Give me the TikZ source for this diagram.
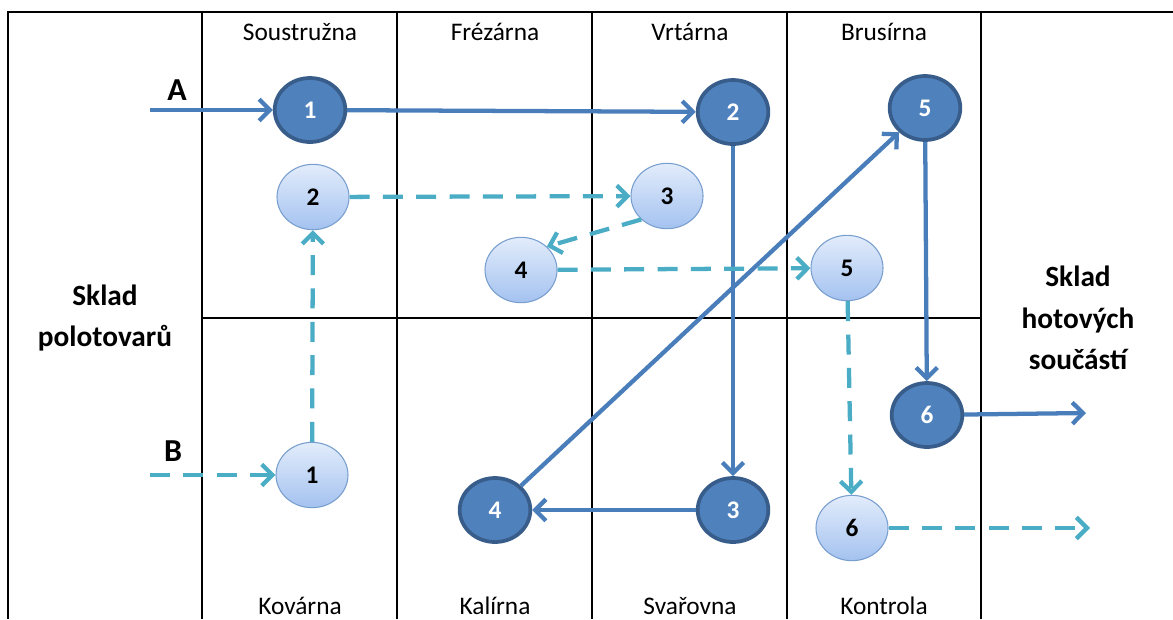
\documentclass[tikz,border=0pt]{standalone}
\usepackage{fontspec}
\setmainfont{Carlito}
\usepackage{tikz}
\usetikzlibrary{arrows.meta, positioning, shapes.geometric}

\definecolor{darkfill}{RGB}{79,129,189}
\definecolor{darkrim}{RGB}{56,93,138}
\definecolor{darkflow}{RGB}{74,126,187}
\definecolor{lightflow}{RGB}{75,172,198}
\definecolor{lighttop}{RGB}{226,236,251}
\definecolor{lightbottom}{RGB}{164,194,240}
\definecolor{lightrim}{RGB}{120,158,206}

\tikzset{
	opA/.style={ellipse, draw=darkrim, line width=2.8pt, fill=darkfill, text=white,
		minimum width=53pt, minimum height=48pt, inner sep=0pt,
		font=\fontsize{19}{21}\selectfont\bfseries},
	opB/.style={ellipse, draw=lightrim, line width=0.8pt, top color=lighttop, bottom color=lightbottom,
		minimum width=54pt, minimum height=49pt, inner sep=0pt,
		font=\fontsize{19}{21}\selectfont\bfseries},
	flowA/.style={darkflow, line width=3.2pt, -{Straight Barb[length=8pt,width=16pt]}},
	flowB/.style={lightflow, line width=3.2pt, dash pattern=on 15pt off 10pt, -{Straight Barb[length=8pt,width=16pt]}},
	dept/.style={font=\fontsize{19}{22}\selectfont},
	store/.style={align=center, font=\fontsize{22}{31}\selectfont\bfseries},
	part/.style={font=\fontsize{24}{26}\selectfont\bfseries}
}

\begin{document}
\begin{tikzpicture}[x=0.75pt,y=-0.75pt]
	\useasboundingbox (0,0) rectangle (1173,619);

	% Draw the grid of workshops
	\draw[line width=0.9pt] (8,619) -- (8,12) -- (1173,12);
	\foreach \xx in {202,397,592,787,981}
		\draw[line width=0.9pt] (\xx,12) -- (\xx,619);
	\draw[line width=0.9pt] (202,318) -- (981,318);

	% Workshop names
	\node[dept] (soustruzna) at (300,32) {Soustružna};
	\node[dept] (frezarna) at (495,32) {Frézárna};
	\node[dept] (vrtarna) at (690,32) {Vrtárna};
	\node[dept] (brusirna) at (884,32) {Brusírna};
	\node[dept] (kovarna) at (300,606) {Kovárna};
	\node[dept] (kalirna) at (495,606) {Kalírna};
	\node[dept] (svarovna) at (690,606) {Svařovna};
	\node[dept] (kontrola) at (884,606) {Kontrola};

	% Stores
	\node[store] (polotovary) at (105,318) {Sklad\\polotovarů};
	\node[store] (hotove) at (1078,318) {Sklad\\hotových\\součástí};

	% Operations of part A
	\node[opA] (a1) at (310,110) {1};
	\node[opA] (a2) at (733,112) {2};
	\node[opA] (a3) at (733,510) {3};
	\node[opA] (a4) at (495,510) {4};
	\node[opA] (a5) at (925,108) {5};
	\node[opA] (a6) at (927,415) {6};

	% Operations of part B
	\node[opB] (b1) at (312,475) {1};
	\node[opB] (b2) at (313,197) {2};
	\node[opB] (b3) at (667,196) {3};
	\node[opB] (b4) at (521,270) {4};
	\node[opB] (b5) at (847,268) {5};
	\node[opB] (b6) at (852,528) {6};

	% Entry and exit points
	\coordinate (inA) at (150,110);
	\coordinate (outA) at (1086,413);
	\coordinate (inB) at (150,475);
	\coordinate (outB) at (1090,528);
	\node[part] (labA) at (177,90) {A};
	\node[part] (labB) at (173,451) {B};

	% Route of part A
	\draw[flowA] (inA) -- (a1);
	\draw[flowA] (a1) -- (a2);
	\draw[flowA] (a2) -- (a3);
	\draw[flowA] (a3) -- (a4);
	\draw[flowA] (a4) -- (a5);
	\draw[flowA] (a5) -- (a6);
	\draw[flowA] (a6) -- (outA);

	% Route of part B
	\draw[flowB] (inB) -- (b1);
	\draw[flowB] (b1) -- (b2);
	\draw[flowB] (b2) -- (b3);
	\draw[flowB] (b3.south west) -- (b4.north east);
	\draw[flowB] (b4) -- (b5);
	\draw[flowB] (b5) -- (b6);
	\draw[flowB] (b6) -- (outB);
\end{tikzpicture}
\end{document}
